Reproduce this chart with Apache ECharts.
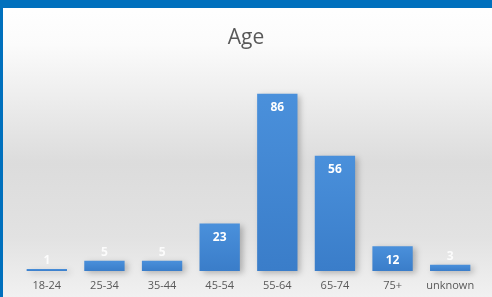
<!DOCTYPE html>
<html>
<head>
<meta charset="utf-8">
<script src="https://cdn.jsdelivr.net/npm/echarts@6/dist/echarts.min.js"></script>
<style>html,body{margin:0;padding:0;}#c{width:492px;height:297px;}</style>
</head>
<body>
<div id="c"></div>
<script>
const categories = ['18-24','25-34','35-44','45-54','55-64','65-74','75+','unknown'];
const values = [1, 5, 5, 23, 86, 56, 12, 3];
const chartTitle = 'Age';

const chart = echarts.init(document.getElementById('c'), null, {renderer:'canvas'});
const barColor = new echarts.graphic.LinearGradient(0,0,0,1,[{offset:0,color:'#4a90db'},{offset:1,color:'#3a7dc9'}]);
chart.setOption({
  animation:false,
  backgroundColor: new echarts.graphic.LinearGradient(0,0,0,1,[
    {offset:0,color:'#ffffff'},{offset:0.15,color:'#fbfbfb'},{offset:0.55,color:'#dcdcdc'},{offset:0.8,color:'#e2e2e2'},{offset:1,color:'#f1f1f1'}]),
  title:{text:chartTitle,left:'center',top:23,textStyle:{fontFamily:'Open Sans',fontSize:21,fontWeight:'normal',color:'#595959'}},
  grid:{left:18,right:13,top:65,bottom:26,containLabel:false},
  xAxis:{type:'category',data:categories,axisLine:{show:false},axisTick:{show:false},
    axisLabel:{interval:0,color:'#595959',fontFamily:'Open Sans',fontSize:11,margin:9}},
  yAxis:{type:'value',min:0,max:100,show:false,splitLine:{show:false}},
  series:[{type:'bar',data:values.map(v=>({value:v,label:v<10?{position:'top',distance:2,color:'rgba(255,255,255,0.85)'}:{}})),
    barCategoryGap:'30%',barMinHeight:2,
    itemStyle:{color:barColor,shadowColor:'rgba(0,0,0,0.25)',shadowBlur:6,shadowOffsetX:3,shadowOffsetY:2},
    label:{show:true,position:'insideTop',distance:8,color:'#ffffff',fontWeight:'bold',fontFamily:'Open Sans',fontSize:12}
  }],
  graphic:[
    {type:'rect',left:0,top:0,shape:{width:492,height:8},style:{fill:'#0070bd'},z:100},
    {type:'rect',left:0,top:0,shape:{width:3,height:297},style:{fill:'#0070bd'},z:100}
  ]
});
</script>
</body>
</html>
